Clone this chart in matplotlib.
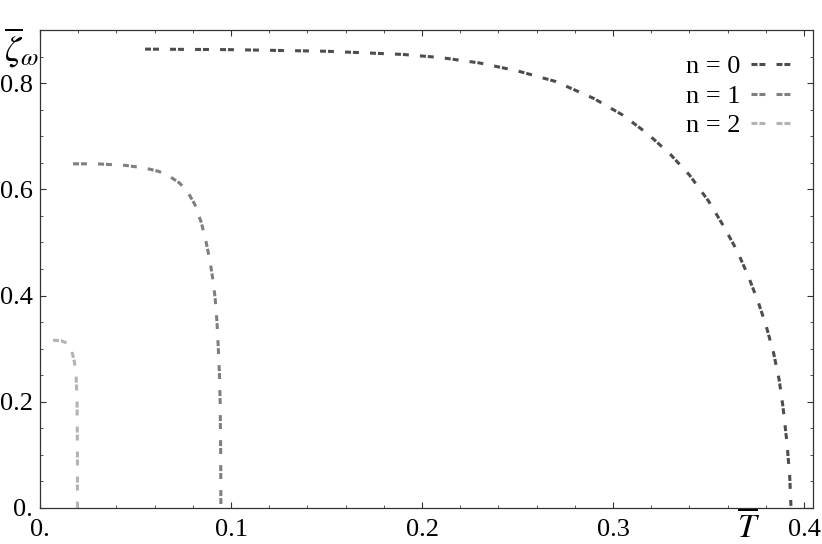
import matplotlib
matplotlib.use("Agg")
import matplotlib.pyplot as plt
from matplotlib.ticker import MultipleLocator

plt.rcParams['font.family'] = ['Liberation Serif', 'DejaVu Serif']
plt.rcParams['mathtext.fontset'] = 'stix'
plt.rcParams['lines.scale_dashes'] = False

# n = 0
T0 = [0.055, 0.10, 0.15, 0.19, 0.21, 0.23, 0.25, 0.27, 0.29, 0.305, 0.318, 0.330,
      0.340, 0.350, 0.358, 0.365, 0.371, 0.376, 0.380, 0.384, 0.387, 0.389, 0.391,
      0.3925, 0.3932]
Z0 = [0.864, 0.863, 0.860, 0.854, 0.848, 0.838, 0.823, 0.803, 0.771, 0.740, 0.705,
      0.666, 0.627, 0.578, 0.530, 0.484, 0.435, 0.388, 0.345, 0.293, 0.241, 0.190,
      0.125, 0.060, 0.0]
# n = 1
T1 = [0.0173, 0.030, 0.045, 0.055, 0.062, 0.068, 0.073, 0.077, 0.081, 0.0845, 0.087,
      0.089, 0.0905, 0.0917, 0.0927, 0.0934, 0.0940, 0.0943, 0.0946, 0.0947]
Z1 = [0.648, 0.648, 0.645, 0.640, 0.634, 0.624, 0.612, 0.597, 0.572, 0.537, 0.500,
      0.465, 0.430, 0.395, 0.348, 0.297, 0.247, 0.203, 0.103, 0.0]
# n = 2
T2 = [0.0068, 0.011, 0.0145, 0.0165, 0.0180, 0.0189, 0.0194, 0.0196, 0.0196]
Z2 = [0.316, 0.315, 0.310, 0.298, 0.275, 0.250, 0.203, 0.100, 0.0]

labels = ['n = 0', 'n = 1', 'n = 2']
colors = ['#4d4d4d', '#7f7f7f', '#b3b3b3']

xticks = [0.0, 0.1, 0.2, 0.3, 0.4]
xticklabels = ['0.', '0.1', '0.2', '0.3', '0.4']
yticks = [0.0, 0.2, 0.4, 0.6, 0.8]
yticklabels = ['0.', '0.2', '0.4', '0.6', '0.8']

fig = plt.figure(figsize=(8.22, 5.44), dpi=100)
ax = fig.add_axes([40/822, 36/544, 773/822, 478/544])

dash = (0, (4.3, 1.4, 4.3, 8.0))
for T, Z, lab, c in zip([T0, T1, T2], [Z0, Z1, Z2], labels, colors):
    ax.plot(T, Z, color=c, lw=2.2, linestyle=dash, label=lab,
            solid_joinstyle='round')

ax.set_xlim(0, 0.4047)
ax.set_ylim(0, 0.9)
ax.set_xticks(xticks)
ax.set_xticklabels(xticklabels)
ax.set_yticks(yticks)
ax.set_yticklabels(yticklabels)
ax.xaxis.set_minor_locator(MultipleLocator(0.02))
ax.yaxis.set_minor_locator(MultipleLocator(0.05))
ax.tick_params(which='both', direction='in', top=True, right=True,
               color='#333333', labelsize=19)
ax.tick_params(which='major', length=4.5, width=0.8)
ax.tick_params(which='minor', length=2.5, width=0.6)
ax.tick_params(axis='x', pad=8)
ax.tick_params(axis='y', pad=5)
for s in ax.spines.values():
    s.set_color('#333333')
    s.set_linewidth(0.9)

fig.text(749/822, 1 - 527/544, r'$\overline{T}$',
         ha='center', va='center', fontsize=24)
fig.text(22/822, 1 - 48/544, r'$\overline{\zeta}_{\omega}$',
         ha='center', va='center', fontsize=26)

leg = ax.legend(loc='upper right', frameon=False, fontsize=19,
                markerfirst=False, handlelength=1.75, handletextpad=0.4,
                labelspacing=0.22, borderaxespad=0, borderpad=0,
                bbox_to_anchor=((797 - 40) / 773, (508 - 55) / 478))

fig.savefig('out.png', dpi=100)
